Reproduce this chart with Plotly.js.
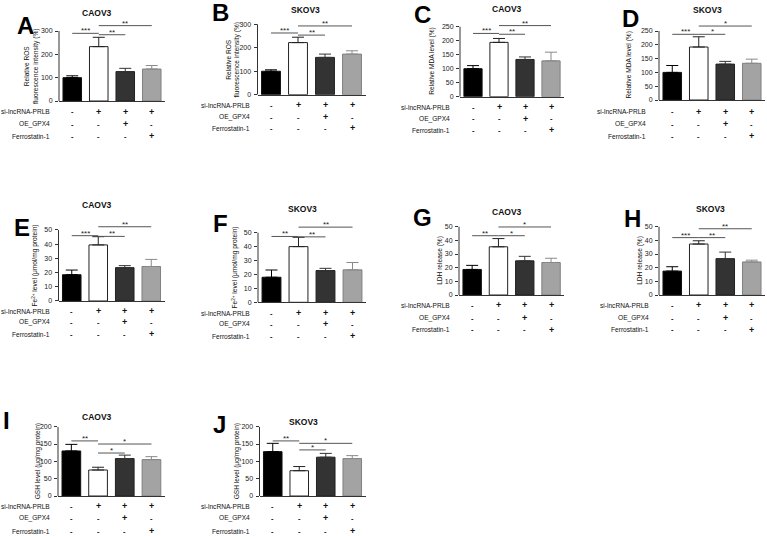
<!DOCTYPE html>
<html><head><meta charset="utf-8">
<script src="https://cdn.plot.ly/plotly-3.0.1.min.js"></script>
<style>html,body{margin:0;padding:0;background:#fff}#chart{width:767px;height:536px}</style>
</head><body><div id="chart"></div>
<script>
const W = 767, H = 536;

// ---------------- data ----------------
const rowLabels = ['si-lncRNA-PRLB', 'OE_GPX4', 'Ferrostatin-1'];
const siRNA = ['-', '+', '+', '+'];
const oeGPX4 = ['-', '-', '+', '-'];
const ferrostatin = ['-', '-', '-', '+'];
const panelLetters = ['A', 'B', 'C', 'D', 'E', 'F', 'G', 'H', 'I', 'J'];
const cellLines = ['CAOV3', 'SKOV3', 'CAOV3', 'SKOV3', 'CAOV3', 'SKOV3', 'CAOV3', 'SKOV3', 'CAOV3', 'SKOV3'];
const yTitles = [
  'Relative ROS<br>fluorescence intensity (%)', 'Relative ROS<br>fluorescence intensity (%)',
  'Relative MDA level (%)', 'Relative MDA level (%)',
  'Fe<sup>2+</sup> level (μmol/mg protein)', 'Fe<sup>2+</sup> level (μmol/mg protein)',
  'LDH release (%)', 'LDH release (%)',
  'GSH level (μg/mg protein)', 'GSH level (μg/mg protein)'
];

const rosCAOV3 = [100, 233, 126, 137];
const rosCAOV3Err = [8, 40, 14, 15];
const rosSKOV3 = [100, 222, 159, 173];
const rosSKOV3Err = [6, 23, 14, 14];
const mdaCAOV3 = [100, 194, 133, 128];
const mdaCAOV3Err = [11, 14, 9, 31];
const mdaSKOV3 = [100, 192, 130, 133];
const mdaSKOV3Err = [25, 37, 10, 15];
const feCAOV3 = [18.5, 39.5, 23.5, 24.3];
const feCAOV3Err = [3.3, 5.8, 1.4, 5];
const feSKOV3 = [18, 40, 22.8, 23.3];
const feSKOV3Err = [5.2, 6.7, 1.6, 5.3];
const ldhCAOV3 = [18.7, 35.3, 25, 23.8];
const ldhCAOV3Err = [3, 6, 3.3, 3.1];
const ldhSKOV3 = [17.5, 37.3, 26.6, 24.2];
const ldhSKOV3Err = [3.2, 2.4, 4.8, 1.3];
const gshCAOV3 = [130, 75, 108, 105];
const gshCAOV3Err = [19, 8, 10, 8.5];
const gshSKOV3 = [128, 73, 112, 108];
const gshSKOV3Err = [24, 12, 11, 8.5];

// significance brackets: pairs of groups, bracket heights (data units), labels
const sigPairs = [[0, 1], [1, 2], [1, 3]];
const sigYA = [290, 284, 323];  const sigLabA = ['***', '**', '**'];
const sigYB = [263, 254, 293];  const sigLabB = ['***', '**', '**'];
const sigYC = [226, 223, 254];  const sigLabC = ['***', '**', '**'];
const sigYD = [238, 238, 268];  const sigLabD = ['***', '*', '*'];
const sigYE = [46, 45.5, 52.3]; const sigLabE = ['***', '**', '**'];
const sigYF = [47.3, 47, 54];   const sigLabF = ['**', '**', '**'];
const sigYG = [43.4, 43.4, 49.8]; const sigLabG = ['**', '*', '*'];
const sigYH = [42, 42, 48.5];   const sigLabH = ['***', '**', '**'];
const sigYI = [159, 124, 150];  const sigLabI = ['**', '*', '*'];
const sigYJ = [159, 133, 152];  const sigLabJ = ['**', '*', '*'];

const panelValues = [rosCAOV3, rosSKOV3, mdaCAOV3, mdaSKOV3, feCAOV3, feSKOV3, ldhCAOV3, ldhSKOV3, gshCAOV3, gshSKOV3];
const panelErrors = [rosCAOV3Err, rosSKOV3Err, mdaCAOV3Err, mdaSKOV3Err, feCAOV3Err, feSKOV3Err, ldhCAOV3Err, ldhSKOV3Err, gshCAOV3Err, gshSKOV3Err];
const panelSigY = [sigYA, sigYB, sigYC, sigYD, sigYE, sigYF, sigYG, sigYH, sigYI, sigYJ];
const panelSigLab = [sigLabA, sigLabB, sigLabC, sigLabD, sigLabE, sigLabF, sigLabG, sigLabH, sigLabI, sigLabJ];
const yMax = [300, 300, 250, 250, 50, 50, 50, 50, 200, 200];
const yStep = [100, 100, 50, 50, 10, 10, 10, 10, 50, 50];

// ---------------- layout geometry (pixels) ----------------
const geom = [
  {axX: 59,  s: 26.5, y0: 101,   yT: 31,    tX: 97,  tY: 13,  lX: 25,  lY: 25,  ylX: 32,  rows: [112, 124, 136], labR: 52},
  {axX: 257.5, s: 27, y0: 94.7,  yT: 24.3,  tX: 305, tY: 10,  lX: 220, lY: 13,  ylX: 233, rows: [105, 117, 128], labR: 252},
  {axX: 460, s: 26,   y0: 96.7,  yT: 26.7,  tX: 507, tY: 9,   lX: 422, lY: 14,  ylX: 432, rows: [107, 119, 130], labR: 452},
  {axX: 659, s: 26.5, y0: 100,   yT: 31,    tX: 707, tY: 10,  lX: 630, lY: 18,  ylX: 629, rows: [112, 124, 136], labR: 648},
  {axX: 58.5, s: 26.5, y0: 301,  yT: 230,   tX: 97,  tY: 205, lX: 22,  lY: 227, ylX: 35,  rows: [311, 322, 334], labR: 52},
  {axX: 258, s: 27,   y0: 302.3, yT: 232.7, tX: 302, tY: 209, lX: 220, lY: 223, ylX: 235, rows: [313, 324, 336], labR: 252},
  {axX: 459, s: 26.3, y0: 295,   yT: 226.7, tX: 507, tY: 212, lX: 422, lY: 217, ylX: 440, rows: [305, 318, 330], labR: 452},
  {axX: 659, s: 26.5, y0: 295,   yT: 226.7, tX: 710, tY: 209, lX: 632, lY: 218, ylX: 640, rows: [305, 318, 330], labR: 651},
  {axX: 58,  s: 26.7, y0: 496,   yT: 426.7, tX: 97,  tY: 417, lX: 7,   lY: 420, ylX: 38,  rows: [506, 518, 531], labR: 52},
  {axX: 259.5, s: 26.5, y0: 496, yT: 426.7, tX: 303, tY: 422, lX: 219, lY: 424, ylX: 237, rows: [506, 518, 531], labR: 252}
];

// styles
const FONT = 'Liberation Sans, Arial, sans-serif';
const barFill = ['#000000', '#ffffff', '#333333', '#a3a3a3'];
const barEdge = ['#111111', '#222222', '#222222', '#808080'];
const errColor = ['#000000', '#222222', '#333333', '#8a8a8a'];
const axisColor = '#333333';
const textColor = '#111111';

const px2x = p => p / W;
const px2y = p => 1 - p / H;

const data = [];
const layout = {
  width: W, height: H,
  margin: {l: 0, r: 0, t: 0, b: 0},
  paper_bgcolor: '#ffffff', plot_bgcolor: 'rgba(0,0,0,0)',
  showlegend: false,
  barmode: 'overlay',
  font: {family: FONT, color: textColor},
  annotations: [],
  shapes: [],
  hovermode: false
};

const tableRows = [siRNA, oeGPX4, ferrostatin];

geom.forEach((g, k) => {
  const n = k + 1;
  const suf = n === 1 ? '' : String(n);
  const xa = 'x' + suf, ya = 'y' + suf;
  // extend the value range upward so the significance brackets fit inside the plot area
  const topVal = Math.max(yMax[k], Math.max(...panelSigY[k]) * 1.06);
  const pxPerUnit = (g.y0 - g.yT) / yMax[k];
  const topPx = g.y0 - topVal * pxPerUnit;

  layout['xaxis' + suf] = {
    domain: [px2x(g.axX), px2x(g.axX + 4 * g.s)],
    range: [-0.5, 3.5], anchor: ya,
    showline: true, linecolor: axisColor, linewidth: 1,
    showgrid: false, zeroline: false, showticklabels: false, ticks: '',
    fixedrange: true
  };
  const tv = [];
  for (let t = 0; t <= yMax[k] + 1e-9; t += yStep[k]) tv.push(t);
  layout['yaxis' + suf] = {
    domain: [px2y(g.y0), px2y(topPx)],
    range: [0, topVal], anchor: xa,
    tickmode: 'array', tickvals: tv, ticktext: tv.map(String),
    showline: false,
    ticks: 'outside', ticklen: 3, tickwidth: 1, tickcolor: axisColor,
    tickfont: {size: 7, color: '#222', family: FONT},
    ticklabelstandoff: 1,
    showgrid: false, zeroline: false, fixedrange: true
  };
  // y axis line from 0 to top tick
  layout.shapes.push({
    type: 'line', xref: xa + ' domain', yref: ya, x0: 0, x1: 0, y0: 0, y1: yMax[k],
    line: {color: axisColor, width: 1}
  });

  const vals = panelValues[k], errs = panelErrors[k];
  vals.forEach((v, j) => {
    data.push({
      type: 'bar', x: [j], y: [v], width: 0.7,
      xaxis: xa, yaxis: ya,
      marker: {color: barFill[j], line: {color: barEdge[j], width: 1}},
      error_y: {type: 'data', symmetric: false, array: [errs[j]], arrayminus: [0],
                color: errColor[j], thickness: 1, width: 6},
      hoverinfo: 'skip'
    });
  });

  sigPairs.forEach((p, i) => {
    const yv = panelSigY[k][i];
    data.push({
      type: 'scatter', mode: 'lines', x: [p[0], p[1]], y: [yv, yv],
      xaxis: xa, yaxis: ya,
      line: {color: '#555555', width: 1}, hoverinfo: 'skip'
    });
    layout.annotations.push({
      xref: xa, yref: ya, x: (p[0] + p[1]) / 2, y: yv,
      xanchor: 'center', yanchor: 'bottom', yshift: -4, showarrow: false,
      text: panelSigLab[k][i], font: {size: 8, color: '#222', family: FONT}
    });
  });

  // cell-line title
  layout.annotations.push({
    xref: 'paper', yref: 'paper', x: px2x(g.tX), y: px2y(g.tY),
    xanchor: 'center', yanchor: 'middle', showarrow: false,
    text: '<b>' + cellLines[k] + '</b>', font: {size: 8.5, color: textColor, family: FONT}
  });
  // panel letter
  layout.annotations.push({
    xref: 'paper', yref: 'paper', x: px2x(g.lX), y: px2y(g.lY),
    xanchor: 'center', yanchor: 'middle', showarrow: false,
    text: '<b>' + panelLetters[k] + '</b>', font: {size: 24, color: '#000', family: FONT}
  });
  // y-axis title
  layout.annotations.push({
    xref: 'paper', yref: 'paper', x: px2x(g.ylX), y: px2y((g.y0 + g.yT) / 2),
    xanchor: 'center', yanchor: 'middle', showarrow: false, textangle: -90,
    text: yTitles[k], font: {size: 6.6, color: textColor, family: FONT}
  });
  // treatment table
  tableRows.forEach((row, r) => {
    layout.annotations.push({
      xref: 'paper', yref: 'paper', x: px2x(g.labR), y: px2y(g.rows[r]),
      xanchor: 'right', yanchor: 'middle', showarrow: false,
      text: rowLabels[r], font: {size: 6.6, color: textColor, family: FONT}
    });
    row.forEach((sym, j) => {
      layout.annotations.push({
        xref: xa, yref: 'paper', x: j, y: px2y(g.rows[r]),
        xanchor: 'center', yanchor: 'middle', showarrow: false,
        text: '<b>' + sym + '</b>',
        font: {size: sym === '+' ? 9 : 7.5, color: textColor, family: FONT}
      });
    });
  });
});

Plotly.newPlot('chart', data, layout, {displayModeBar: false, staticPlot: true});
</script>
</body></html>
